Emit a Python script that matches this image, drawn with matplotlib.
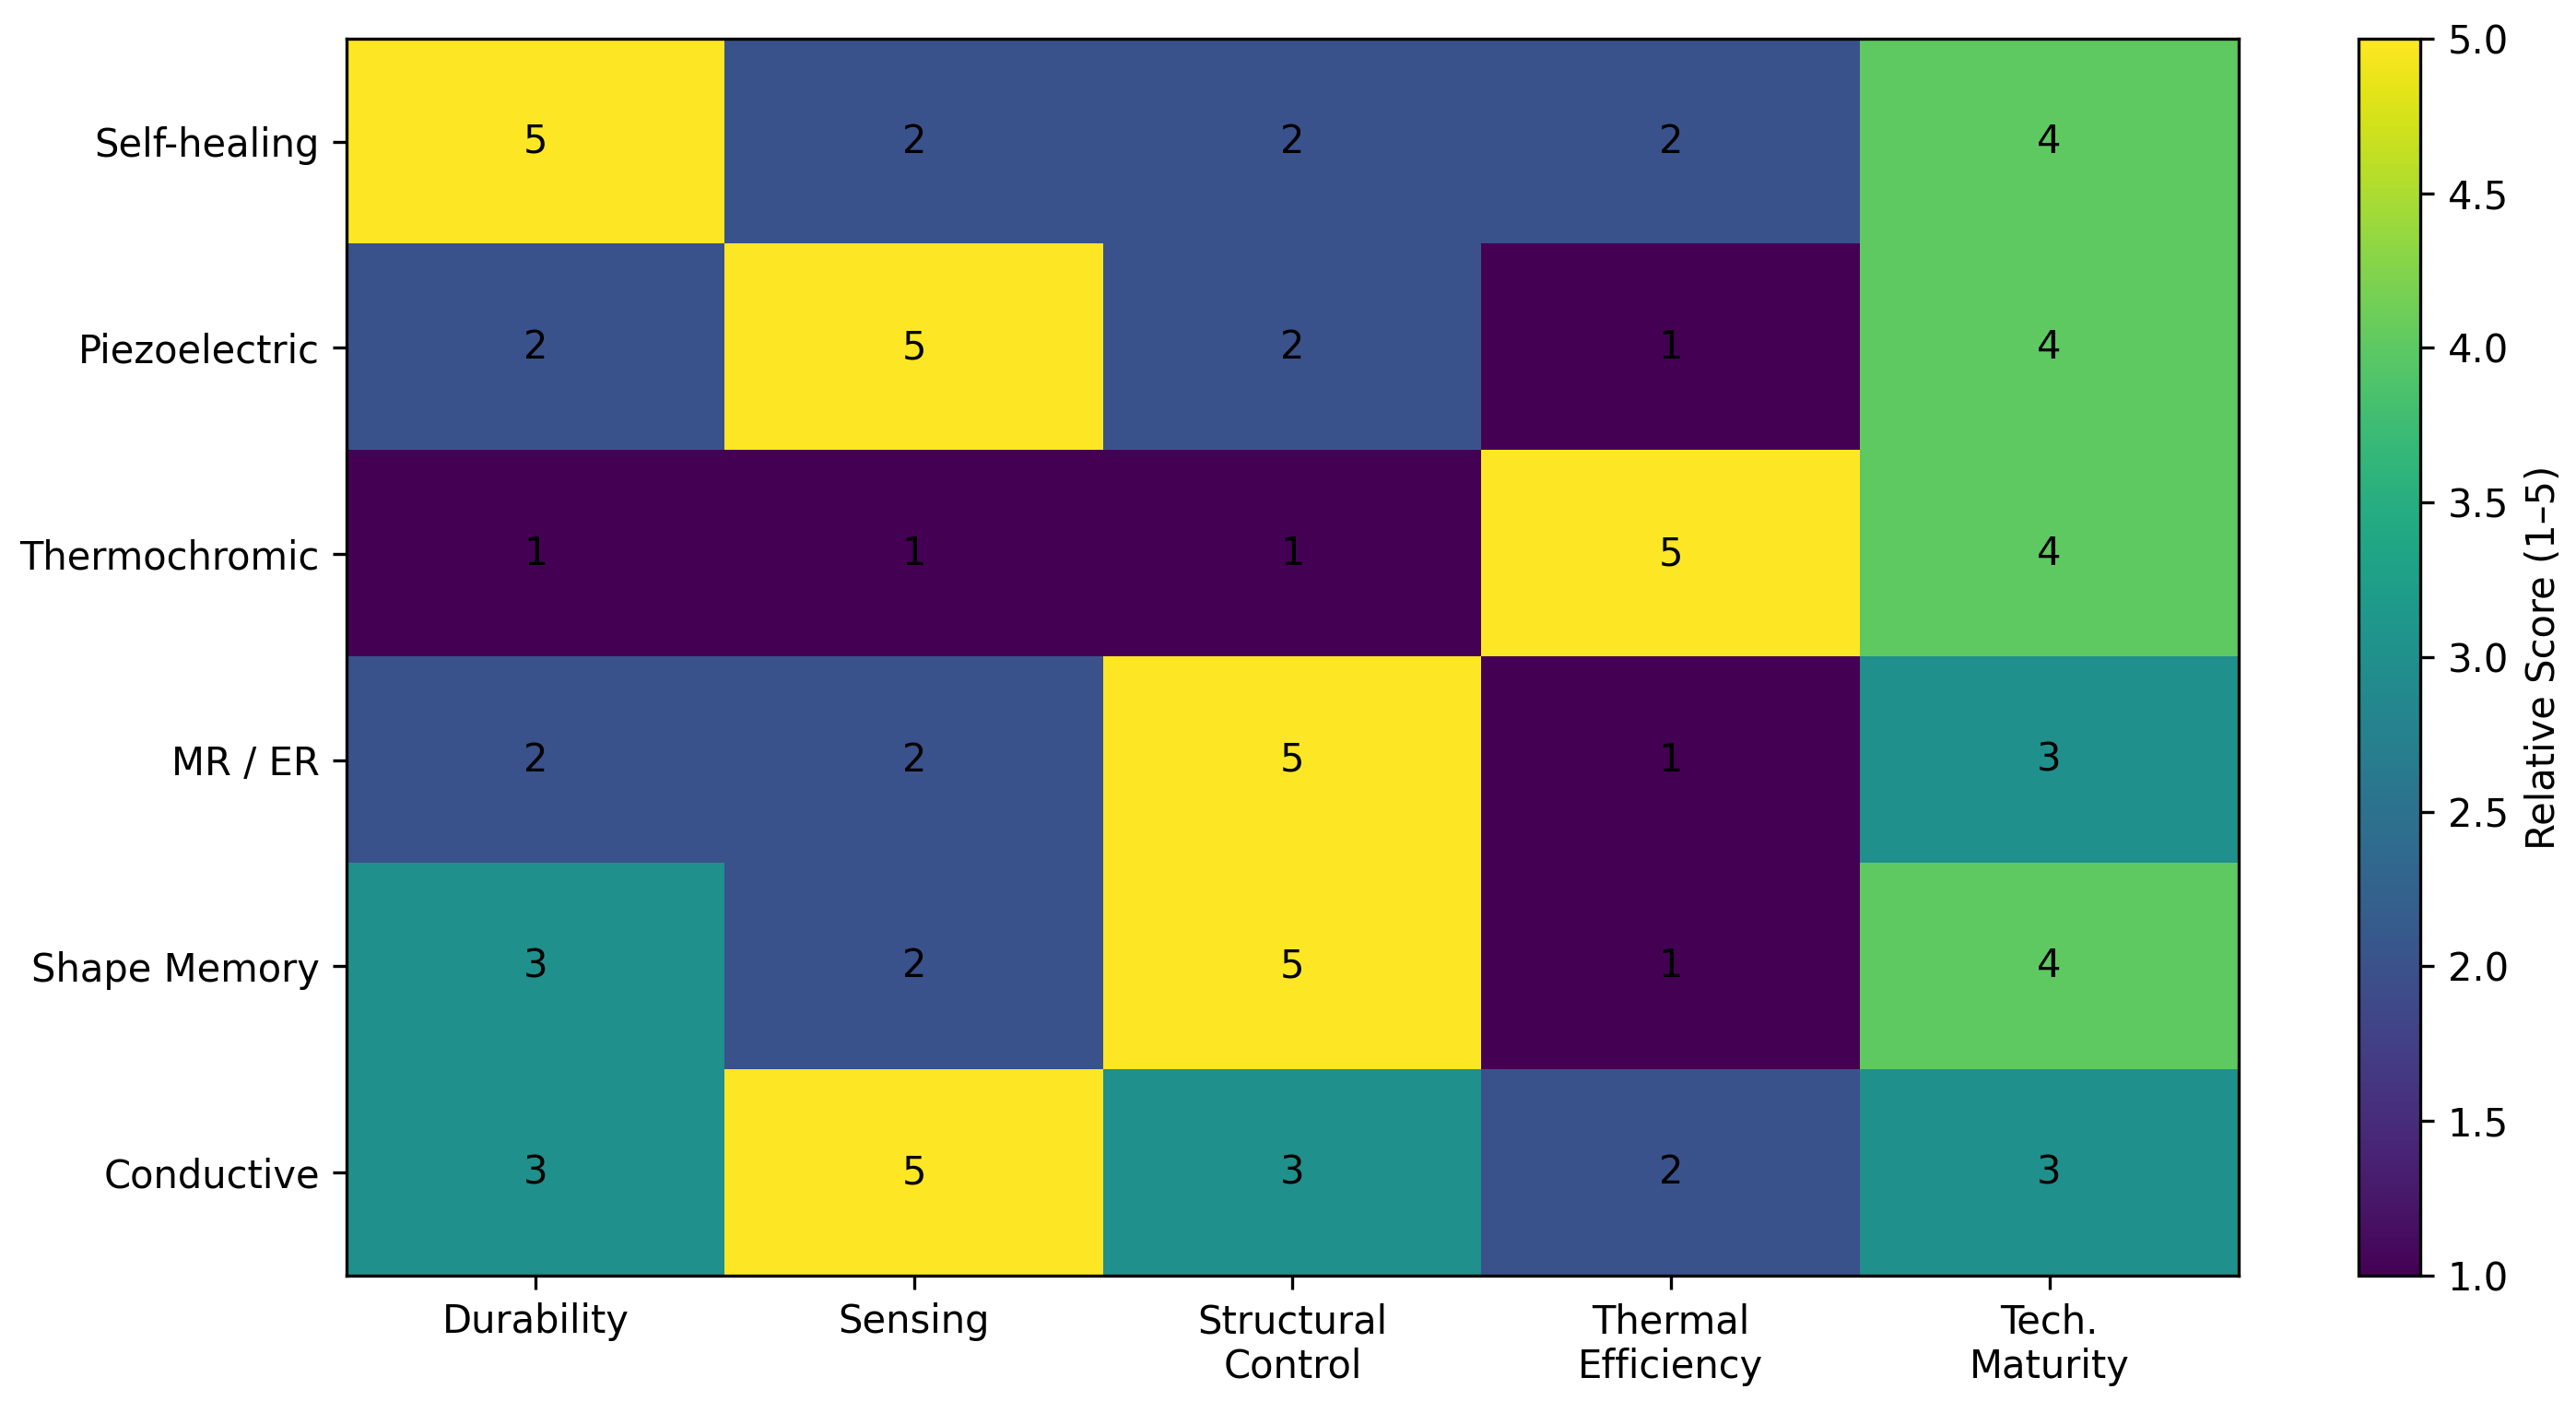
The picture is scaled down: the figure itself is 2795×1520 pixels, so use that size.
import numpy as np
import matplotlib
matplotlib.use("Agg")
import matplotlib.pyplot as plt

materials = ["Self-healing", "Piezoelectric", "Thermochromic", "MR / ER",
             "Shape Memory", "Conductive"]
criteria = ["Durability", "Sensing", "Structural\nControl", "Thermal\nEfficiency",
            "Tech.\nMaturity"]

durability = [5, 2, 1, 2, 3, 3]
sensing = [2, 5, 1, 2, 2, 5]
structural = [2, 2, 1, 5, 5, 3]
thermal = [2, 1, 5, 1, 1, 2]
maturity = [4, 4, 4, 3, 4, 3]

scores = np.array([durability, sensing, structural, thermal, maturity]).T

fig = plt.figure(figsize=(2795 / 300, 1520 / 300), dpi=300)
ax = fig.add_axes([0.1345, 0.0895, 0.7345, 0.8830])
cax = fig.add_axes([0.9155, 0.0895, 0.0242, 0.8830])

im = ax.imshow(scores, cmap="viridis", vmin=1, vmax=5, aspect="auto")

ax.set_xticks(range(len(criteria)))
ax.set_xticklabels(criteria)
ax.set_yticks(range(len(materials)))
ax.set_yticklabels(materials)

for i in range(scores.shape[0]):
    for j in range(scores.shape[1]):
        ax.text(j, i, str(scores[i, j]), ha="center", va="center", color="black")

cbar = fig.colorbar(im, cax=cax)
cbar.set_label("Relative Score (1–5)")

fig.savefig("out.png", dpi=300)
plt.close(fig)
